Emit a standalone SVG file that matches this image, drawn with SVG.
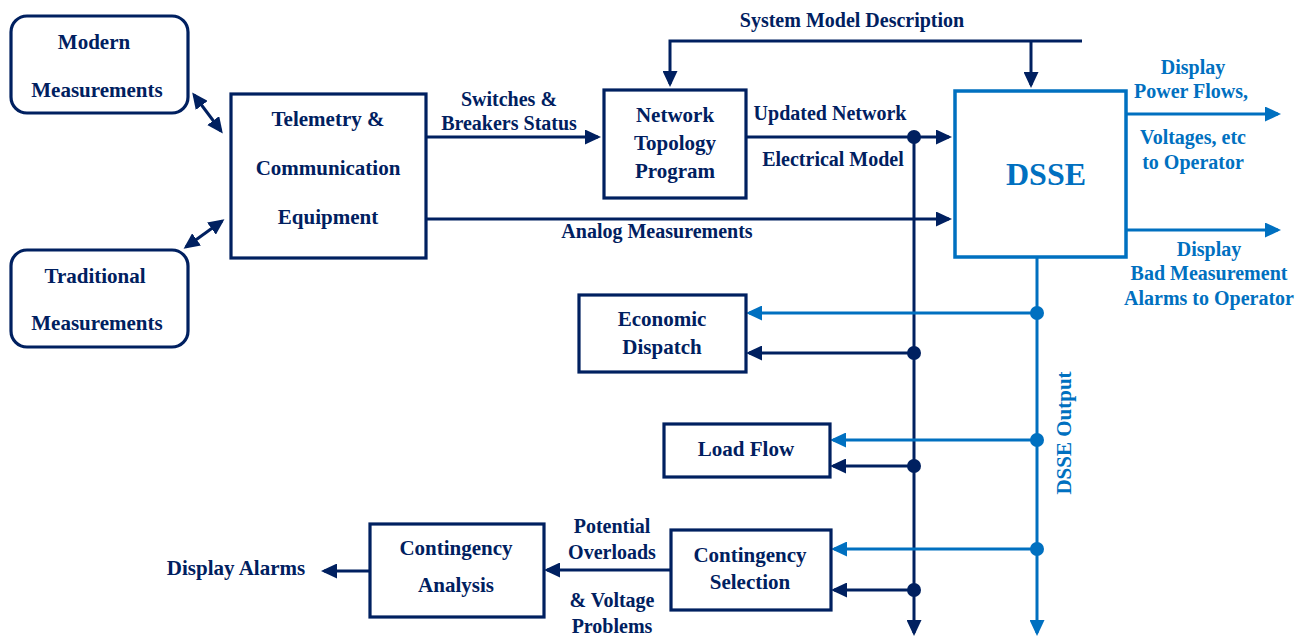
<svg xmlns="http://www.w3.org/2000/svg" width="1304" height="638" viewBox="0 0 1304 638">
<style>
text{font-family:"Liberation Serif","Times New Roman",serif;font-weight:bold;text-anchor:middle}
.d{fill:#002060}
.b{fill:#0070C0}
.t{font-size:20px}
.n{font-size:21px}
.box{fill:#fff;stroke:#002060;stroke-width:3.2}
.ln{fill:none;stroke:#002060;stroke-width:3}
.lb{fill:none;stroke:#0070C0;stroke-width:3}
</style>
<defs>
<marker id="ad" markerUnits="userSpaceOnUse" markerWidth="17" markerHeight="15" refX="13" refY="7.5" orient="auto-start-reverse"><path d="M0,0 L16,7.5 L0,15 z" fill="#002060"/></marker>
<marker id="ab" markerUnits="userSpaceOnUse" markerWidth="17" markerHeight="15" refX="13" refY="7.5" orient="auto-start-reverse"><path d="M0,0 L16,7.5 L0,15 z" fill="#0070C0"/></marker>
</defs>
<rect width="1304" height="638" fill="#fff"/>

<g id="connectors">
<line class="ln" x1="194" y1="95" x2="221" y2="131" marker-start="url(#ad)" marker-end="url(#ad)"/>
<line class="ln" x1="186" y1="247" x2="222" y2="221" marker-start="url(#ad)" marker-end="url(#ad)"/>
<line class="ln" x1="426" y1="137" x2="598" y2="137" marker-end="url(#ad)"/>
<line class="ln" x1="426" y1="219" x2="949" y2="219" marker-end="url(#ad)"/>
<polyline class="ln" points="1082,41 670,41 670,84" marker-end="url(#ad)"/>
<line class="ln" x1="1031" y1="41" x2="1031" y2="85" marker-end="url(#ad)"/>
<line class="ln" x1="746" y1="137" x2="949" y2="137" marker-end="url(#ad)"/>
<line class="ln" x1="914" y1="137" x2="914" y2="633" marker-end="url(#ad)"/>
<line class="ln" x1="914" y1="353" x2="749" y2="353" marker-end="url(#ad)"/>
<line class="ln" x1="914" y1="466" x2="833" y2="466" marker-end="url(#ad)"/>
<line class="ln" x1="914" y1="590" x2="834" y2="590" marker-end="url(#ad)"/>
<circle cx="914" cy="137" r="7" fill="#002060"/>
<circle cx="914" cy="353" r="7" fill="#002060"/>
<circle cx="914" cy="466" r="7" fill="#002060"/>
<circle cx="914" cy="590" r="7" fill="#002060"/>
<line class="lb" x1="1037" y1="257" x2="1037" y2="633" marker-end="url(#ab)"/>
<line class="lb" x1="1037" y1="313" x2="749" y2="313" marker-end="url(#ab)"/>
<line class="lb" x1="1037" y1="440" x2="833" y2="440" marker-end="url(#ab)"/>
<line class="lb" x1="1037" y1="549" x2="834" y2="549" marker-end="url(#ab)"/>
<circle cx="1037" cy="313" r="7" fill="#0070C0"/>
<circle cx="1037" cy="440" r="7" fill="#0070C0"/>
<circle cx="1037" cy="549" r="7" fill="#0070C0"/>
<line class="lb" x1="1126" y1="114" x2="1278" y2="114" marker-end="url(#ab)"/>
<line class="lb" x1="1126" y1="230" x2="1278" y2="230" marker-end="url(#ab)"/>
<line class="ln" x1="671" y1="570" x2="547" y2="570" marker-end="url(#ad)"/>
<line class="ln" x1="370" y1="571" x2="324" y2="571" marker-end="url(#ad)"/>
</g>

<g id="modern">
<rect class="box" x="11" y="16" width="177" height="97" rx="16"/>
<text class="d n" x="94" y="49">Modern</text>
<text class="d n" x="97" y="97">Measurements</text>
</g>
<g id="traditional">
<rect class="box" x="11" y="250" width="177" height="97" rx="16"/>
<text class="d n" x="95" y="283">Traditional</text>
<text class="d n" x="97" y="330">Measurements</text>
</g>
<g id="telemetry">
<rect class="box" x="231" y="94" width="195" height="164"/>
<text class="d n" x="328" y="126">Telemetry &amp;</text>
<text class="d n" x="328" y="175">Communication</text>
<text class="d n" x="328" y="224">Equipment</text>
</g>
<g id="switches-label">
<text class="d t" x="509" y="106">Switches &amp;</text>
<text class="d t" x="509" y="130">Breakers Status</text>
</g>
<g id="topology">
<rect class="box" x="604" y="90" width="142" height="108"/>
<text class="d n" x="675" y="122">Network</text>
<text class="d n" x="675" y="150">Topology</text>
<text class="d n" x="675" y="178">Program</text>
</g>
<g id="labels">
<text class="d t" x="852" y="27">System Model Description</text>
<text class="d t" x="830" y="120">Updated Network</text>
<text class="d t" x="833" y="166">Electrical Model</text>
<text class="d t" x="657" y="238">Analog Measurements</text>
<text class="b t" x="1193" y="74">Display</text>
<text class="b t" x="1191" y="98">Power Flows,</text>
<text class="b t" x="1193" y="144">Voltages, etc</text>
<text class="b t" x="1193" y="169">to Operator</text>
<text class="b t" x="1209" y="256">Display</text>
<text class="b t" x="1209" y="280">Bad Measurement</text>
<text class="b t" x="1209" y="305">Alarms to Operator</text>
<text class="b n" transform="translate(1071,433) rotate(-90)">DSSE Output</text>
<text class="d t" x="612" y="533">Potential</text>
<text class="d t" x="612" y="559">Overloads</text>
<text class="d t" x="612" y="607">&amp; Voltage</text>
<text class="d t" x="612" y="633">Problems</text>
<text class="d n" x="236" y="575">Display Alarms</text>
</g>
<g id="dsse">
<rect x="955" y="91" width="171" height="166" fill="#fff" stroke="#0070C0" stroke-width="3.5"/>
<text class="b" x="1046" y="185" font-size="32">DSSE</text>
</g>
<g id="economic">
<rect class="box" x="579" y="295" width="167" height="77"/>
<text class="d n" x="662" y="326">Economic</text>
<text class="d n" x="662" y="354">Dispatch</text>
</g>
<g id="loadflow">
<rect class="box" x="664" y="424" width="166" height="53"/>
<text class="d n" x="746" y="456">Load Flow</text>
</g>
<g id="selection">
<rect class="box" x="671" y="530" width="160" height="80"/>
<text class="d n" x="750" y="562">Contingency</text>
<text class="d n" x="750" y="589">Selection</text>
</g>
<g id="analysis">
<rect class="box" x="370" y="524" width="174" height="93"/>
<text class="d n" x="456" y="555">Contingency</text>
<text class="d n" x="456" y="592">Analysis</text>
</g>
</svg>
